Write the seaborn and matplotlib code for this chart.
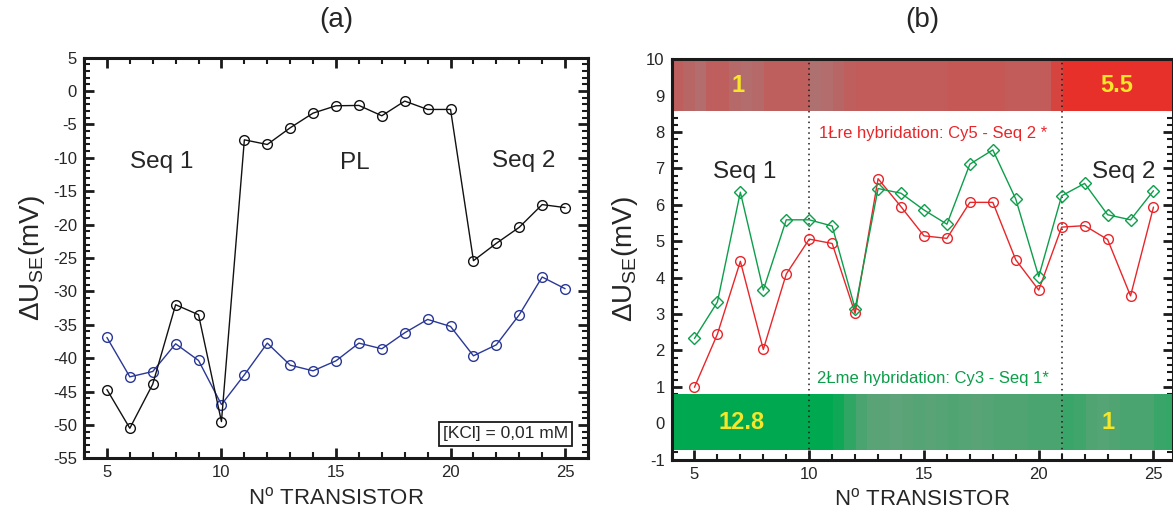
import numpy as np
import pandas as pd
import seaborn as sns
import matplotlib.pyplot as plt
from matplotlib.colors import LinearSegmentedColormap
from matplotlib.ticker import MultipleLocator

sns.set_theme(style='ticks')
plt.rcParams['font.family'] = ['Liberation Sans', 'DejaVu Sans']
plt.rcParams['mathtext.fontset'] = 'custom'
plt.rcParams['mathtext.rm'] = 'Liberation Sans'
plt.rcParams['mathtext.it'] = 'Liberation Sans:italic'
plt.rcParams['axes.unicode_minus'] = False

transistors = list(range(5, 26))

# (a) shift after hybridation, [KCl] = 0,01 mM
dU_black = [-44.7, -50.5, -43.9, -32.0, -33.5, -49.5, -7.3, -8.0, -5.5, -3.3,
            -2.2, -2.15, -3.7, -1.5, -2.75, -2.75, -25.4, -22.8, -20.4,
            -17.0, -17.45]
dU_blue = [-36.9, -42.8, -42.0, -37.85, -40.35, -46.95, -42.5, -37.75, -41.05,
           -41.9, -40.4, -37.75, -38.6, -36.2, -34.2, -35.25, -39.65, -38.0,
           -33.5, -27.85, -29.6]

# (b) two successive hybridations
dU_cy5 = [0.99, 2.45, 4.45, 2.03, 4.10, 5.06, 4.94, 3.02, 6.72, 5.95,
          5.15, 5.08, 6.07, 6.07, 4.49, 3.66, 5.39, 5.43, 5.05, 3.50, 5.94]
dU_cy3 = [2.33, 3.33, 6.35, 3.66, 5.59, 5.59, 5.42, 3.15, 6.45, 6.32,
          5.86, 5.47, 7.12, 7.51, 6.16, 4.03, 6.25, 6.59, 5.73, 5.59, 6.39]

# fluorescence strips, relative intensity in 0.5 steps from x=4 to x=26
cy5_strip = [0.3, 0.2, 0.1, 0.3, 0.3, 0.15, 0.1, 0.15, 0.3, 0.3, 0.3, 0.3,
             0.05, 0.1, 0.2, 0.3,
             0.35, 0.35, 0.35, 0.35, 0.35, 0.35, 0.35, 0.35,
             0.42, 0.42, 0.42, 0.42, 0.42,
             0.35, 0.35, 0.35, 0.35, 0.7,
             1, 1, 1, 1, 1, 1, 1, 1, 1, 1]
cy3_strip = [1, 1, 1, 1, 1, 1, 1, 1, 1, 1, 1, 1, 1, 1,
             0.85, 0.55, 0.3, 0.15,
             0.15, 0.1, 0.15, 0.2, 0.15, 0.2, 0.25, 0.2, 0.15, 0.2,
             0.25, 0.25, 0.25, 0.3, 0.3, 0.3,
             0.45, 0.4, 0.25, 0.2, 0.25, 0.3, 0.3, 0.3, 0.45, 0.5]
strip_labels_cy5 = {'1': 6.9, '5.5': 23.4}
strip_labels_cy3 = {'12.8': 7.05, '1': 23.0}

W, H = 1173, 514
fig = plt.figure(figsize=(W / 100, H / 100), dpi=100)
ax1 = fig.add_axes([84 / W, 1 - 458.3 / H, 504 / W, 400.6 / H])
ax2 = fig.add_axes([671.5 / W, 1 - 459.7 / H, 501.5 / W, 400.4 / H])


def style_axes(ax):
    for s in ax.spines.values():
        s.set_linewidth(2.2)
        s.set_color('#1a1a1a')
        s.set_visible(True)
    ax.tick_params(which='both', direction='in', top=True, right=True,
                   color='#1a1a1a', labelsize=12, pad=5)
    ax.tick_params(which='major', length=7, width=2)
    ax.tick_params(which='minor', length=4, width=1.5)
    ax.set_facecolor('white')
    ax.grid(False)


def draw_series(ax, y, color, marker, size):
    sns.lineplot(x=transistors, y=y, ax=ax, color=color, lw=1.0,
                 marker=marker, markersize=size, markerfacecolor='none',
                 markeredgecolor=color, markeredgewidth=1.0, zorder=5)


# ---- panel (a)
style_axes(ax1)
draw_series(ax1, dU_blue, '#2a3896', 'o', 7)
draw_series(ax1, dU_black, '#111111', 'o', 7)
ax1.set_xlim(4, 26)
ax1.set_ylim(-55, 5)
ax1.xaxis.set_major_locator(MultipleLocator(5))
ax1.xaxis.set_minor_locator(MultipleLocator(1))
ax1.yaxis.set_major_locator(MultipleLocator(5))
ax1.yaxis.set_minor_locator(MultipleLocator(1))
ax1.text(7.4, -10.6, 'Seq 1', fontsize=17.5, ha='center', va='center')
ax1.text(15.8, -10.7, 'PL', fontsize=17.5, ha='center', va='center')
ax1.text(23.2, -10.5, 'Seq 2', fontsize=17.5, ha='center', va='center')
ax1.text(22.4, -51.35, '[KCl] = 0,01 mM', fontsize=12.5, ha='center',
         va='center', bbox=dict(boxstyle='square,pad=0.25', fc='white',
                                ec='#1a1a1a', lw=1.3))

# ---- panel (b)
style_axes(ax2)
cmap_red = LinearSegmentedColormap.from_list('cy5', ['#ad7474', '#e8302b'])
cmap_green = LinearSegmentedColormap.from_list('cy3', ['#6aa37f', '#00a94f'])
ax2.imshow(np.array([cy5_strip]), cmap=cmap_red, vmin=0, vmax=1,
           extent=(4, 26, 8.57, 10), aspect='auto', interpolation='nearest',
           zorder=1)
ax2.imshow(np.array([cy3_strip]), cmap=cmap_green, vmin=0, vmax=1,
           extent=(4, 26, -0.73, 0.8), aspect='auto', interpolation='nearest',
           zorder=1)
for lab, xpos in strip_labels_cy5.items():
    ax2.text(xpos, 9.28, lab, color='#f5e62a', fontsize=17,
             fontweight='bold', ha='center', va='center', zorder=6)
for lab, xpos in strip_labels_cy3.items():
    ax2.text(xpos, 0.03, lab, color='#f5e62a', fontsize=17,
             fontweight='bold', ha='center', va='center', zorder=6)
for xv in [10, 21]:
    ax2.axvline(xv, color='#1a1a1a', ls=(0, (1, 2.5)), lw=1.1, zorder=3)

draw_series(ax2, dU_cy5, '#e8262a', 'o', 7)
draw_series(ax2, dU_cy3, '#0c9e4a', 'D', 6.5)
ax2.set_xlim(4, 25.85)
ax2.set_ylim(-1, 10)
ax2.xaxis.set_major_locator(MultipleLocator(5))
ax2.xaxis.set_minor_locator(MultipleLocator(1))
ax2.yaxis.set_major_locator(MultipleLocator(1))
ax2.yaxis.set_minor_locator(MultipleLocator(0.2))
ax2.text(7.2, 6.9, 'Seq 1', fontsize=17.5, ha='center', va='center')
ax2.text(23.7, 6.9, 'Seq 2', fontsize=17.5, ha='center', va='center')
ax2.text(15.4, 7.97, '1Łre hybridation: Cy5 - Seq 2 *', color='#e8262a',
         fontsize=12, ha='center', va='center')
ax2.text(15.4, 1.24, '2Łme hybridation: Cy3 - Seq 1*', color='#0c9e4a',
         fontsize=12, ha='center', va='center')

for ax, lab in [(ax1, '(a)'), (ax2, '(b)')]:
    ax.set_xlabel(r'N$^{\mathrm{o}}$ TRANSISTOR', fontsize=16, labelpad=5)
    ax.set_ylabel(r'$\Delta$U$_{\mathrm{SE}}$(mV)', fontsize=20, labelpad=4)
    box = ax.get_position()
    fig.text((box.x0 + box.x1) / 2, 1 - 20 / H, lab, fontsize=20,
             ha='center', va='center')

fig.savefig('out.png', dpi=100)
